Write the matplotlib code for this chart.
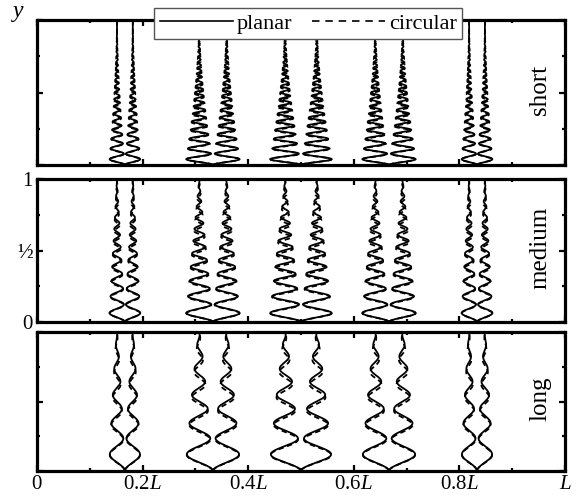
import numpy as np
import matplotlib.pyplot as plt
from matplotlib.ticker import MultipleLocator, FixedLocator, FixedFormatter

plt.rcParams['font.family'] = ['Liberation Serif', 'DejaVu Serif']
plt.rcParams['mathtext.fontset'] = 'custom'
plt.rcParams['mathtext.rm'] = 'Liberation Serif'
plt.rcParams['mathtext.it'] = 'Liberation Serif:italic'

# pressure nodes (fraction of L) and starting offsets of the particle pairs
node_x = [1/6, 1/3, 1/2, 2/3, 5/6]
start_off = [0.015, 0.026, 0.030, 0.026, 0.015]

# panels: name, oscillation cycles per unit y near bottom, chirp, envelope exponent
panels = ['short', 'medium', 'long']
freq0 = [12.0, 7.7, 4.0]
freq1 = [20.0, 7.0, 2.0]
env_pow = [1.7, 1.0, 0.8]
circ_shift = [1.025, 1.03, 1.04]

xticks = [0, 0.2, 0.4, 0.6, 0.8, 1.0]
xlabels = ['0', '0.2$L$', '0.4$L$', '0.6$L$', '0.8$L$', '$L$']

fig = plt.figure(figsize=(5.76, 5.0), dpi=100)
boxes = [[0.064, 0.67, 0.917, 0.29],
         [0.064, 0.356, 0.917, 0.286],
         [0.064, 0.058, 0.917, 0.278]]

y = np.linspace(0, 1, 2000)

for i, name in enumerate(panels):
    ax = fig.add_axes(boxes[i])
    cycles = freq0[i] * y + 0.5 * freq1[i] * y**2
    for xc, d in zip(node_x, start_off):
        amp = d * (1 - y) ** env_pow[i]
        for s in (1, -1):
            xp = xc + s * (d + amp * np.cos(np.pi + 2 * np.pi * cycles))
            xq = xc + s * (d + amp * np.cos(np.pi + 2 * np.pi * cycles * circ_shift[i]))
            ax.plot(xp, y, color='black', lw=1.3, solid_capstyle='butt')
            ax.plot(xq, y, color='black', lw=1.3, ls=(0, (3, 2)))
    ax.set_xlim(0, 1)
    ax.set_ylim(0, 1)
    ax.xaxis.set_major_locator(FixedLocator(xticks))
    ax.xaxis.set_minor_locator(MultipleLocator(0.1))
    ax.yaxis.set_major_locator(FixedLocator([0, 0.5, 1]))
    ax.yaxis.set_minor_locator(MultipleLocator(0.25))
    ax.tick_params(which='both', direction='in', top=True, right=True, width=1.6,
                   labelsize=15, pad=3)
    ax.tick_params(which='major', length=4.5)
    ax.tick_params(which='minor', length=2.5)
    for sp in ax.spines.values():
        sp.set_linewidth(2.3)
    if i == 2:
        ax.xaxis.set_major_formatter(FixedFormatter(xlabels))
    else:
        ax.set_xticklabels([])
    if i == 1:
        ax.yaxis.set_major_formatter(FixedFormatter(['0', '½', '1']))
    else:
        ax.set_yticklabels([])
    ax.text(0.953, 0.52, name, transform=ax.transAxes, rotation=90,
            ha='center', va='center', fontsize=18)
    if i == 0:
        h1, = ax.plot([], [], color='black', lw=1.2, label='planar')
        h2, = ax.plot([], [], color='black', lw=1.2, ls=(0, (4.5, 3.5)), label='circular')
        leg = fig.legend(handles=[h1, h2], loc='upper center', ncol=2,
                         bbox_to_anchor=(0.535, 0.998), fontsize=16,
                         handlelength=3.3, handletextpad=0.15, columnspacing=0.9,
                         fancybox=False, framealpha=1, edgecolor='#555555',
                         borderpad=0.25, borderaxespad=0.3)
        leg.get_frame().set_linewidth(1.0)

fig.text(18 / 576, 1 - 14 / 500, '$y$', fontsize=17, ha='center', va='center')

fig.savefig('out.png', dpi=100)
